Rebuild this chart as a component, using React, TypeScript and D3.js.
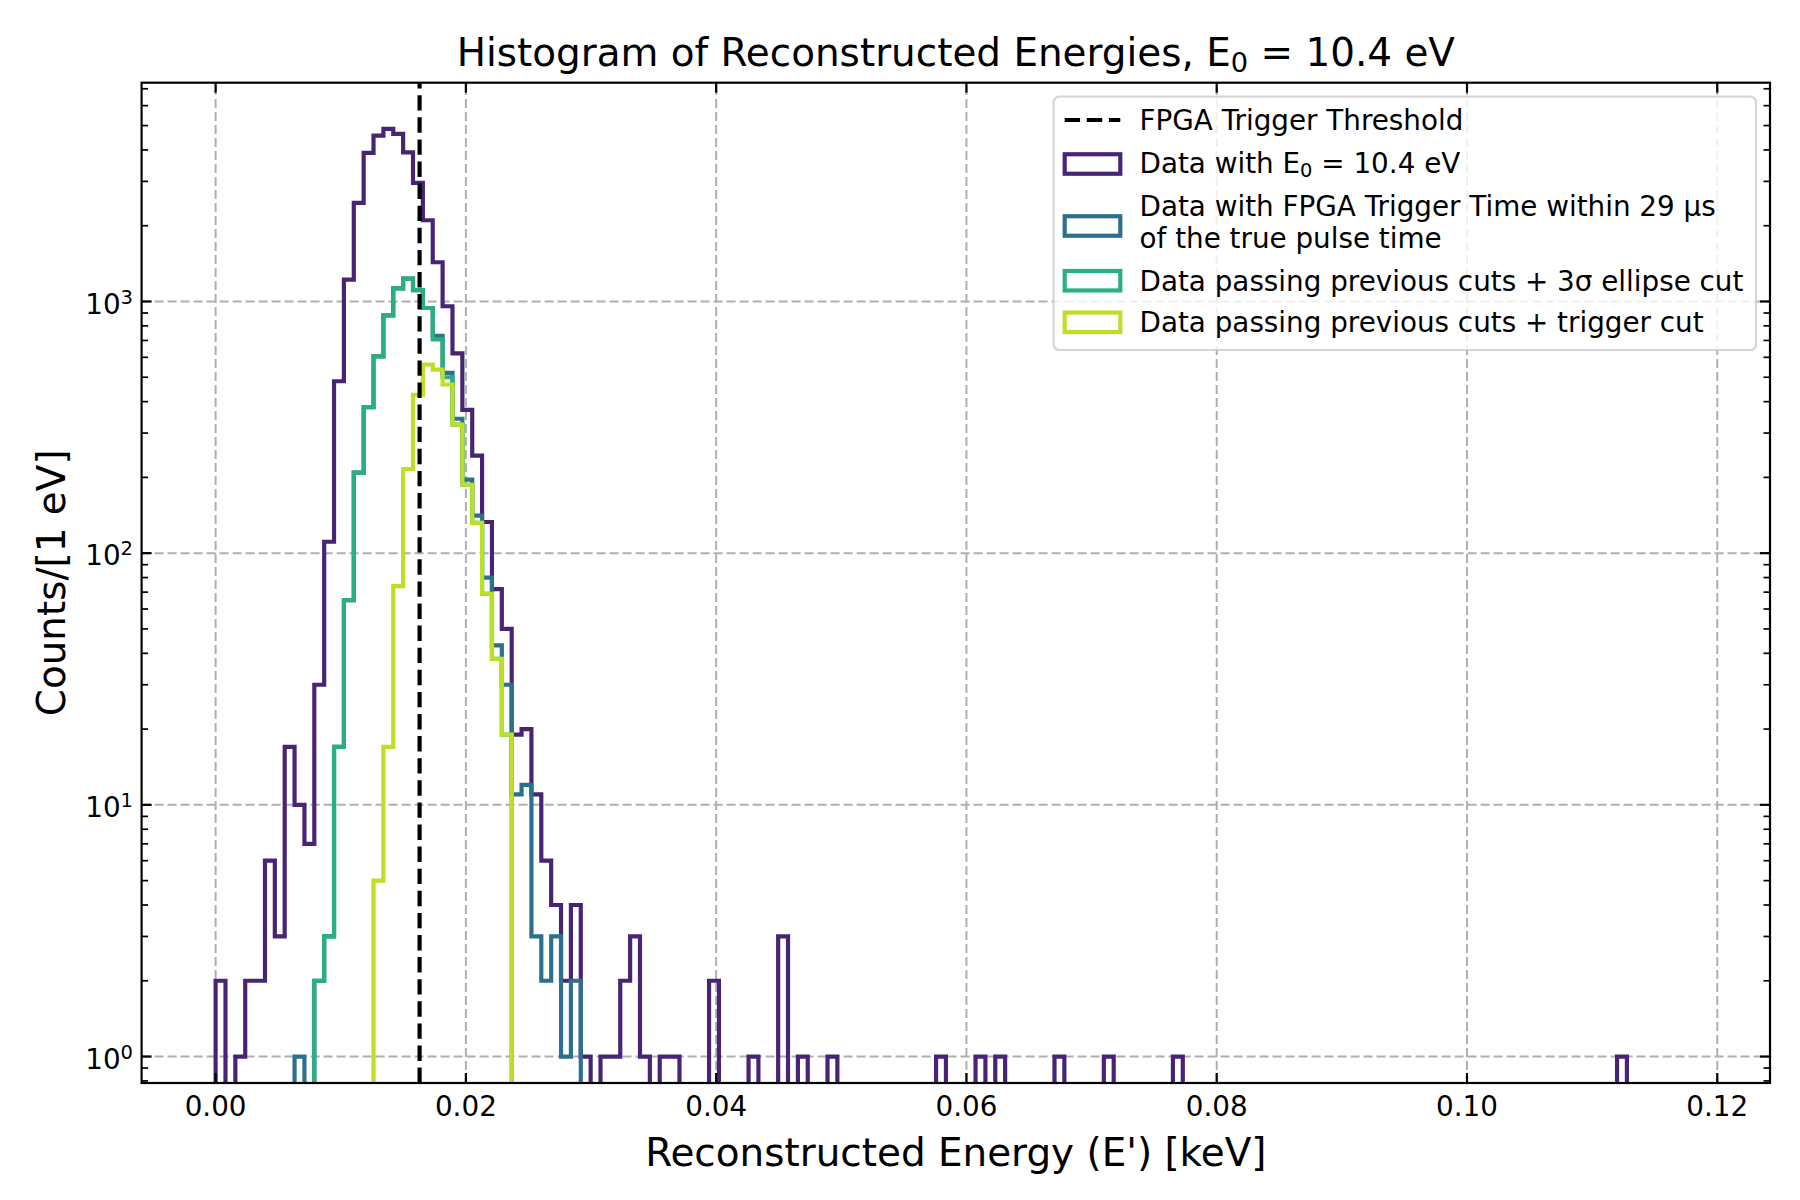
import React from "react";
import * as d3 from "d3";

const WIDTH = 1800;
const HEIGHT = 1200;
const FONT = "'DejaVu Sans', sans-serif";

// 150 equal bins between the lowest and highest reconstructed energy (keV)
const ENERGY_RANGE: [number, number] = [0, 0.1183];
const BIN_COUNT = 150;
const FPGA_THRESHOLD = 0.0163;

// counts per bin, bin 0 first; bins past the end of a list are empty
const allCounts = [
  2, 0, 1, 2, 2, 6, 3, 17, 10, 7,
  30, 111, 482, 1222, 2466, 3893, 4562, 4850, 4635, 3915,
  2958, 2103, 1432, 957, 622, 371, 244, 133, 72, 50,
  19, 20, 11, 6, 4, 2, 4, 1, 0, 1,
  1, 2, 3, 1, 0, 1, 1, 0, 0, 0,
  2, 0, 0, 0, 1, 0, 0, 3, 0, 1,
  0, 0, 1, 0, 0, 0, 0, 0, 0, 0,
  0, 0, 0, 1, 0, 0, 0, 1, 0, 1,
  0, 0, 0, 0, 0, 1, 0, 0, 0, 0,
  1, 0, 0, 0, 0, 0, 0, 1, 0, 0,
  0, 0, 0, 0, 0, 0, 0, 0, 0, 0,
  0, 0, 0, 0, 0, 0, 0, 0, 0, 0,
  0, 0, 0, 0, 0, 0, 0, 0, 0, 0,
  0, 0, 0, 0, 0, 0, 0, 0, 0, 0,
  0, 0, 1,
];
const triggerTimeCounts = [
  0, 0, 0, 0, 0, 0, 0, 0, 1, 0,
  2, 3, 17, 65, 209, 380, 605, 880, 1128, 1233,
  1110, 942, 730, 520, 342, 196, 141, 80, 43, 30,
  11, 12, 3, 2, 3, 1, 2,
];
const ellipseCutCounts = [
  0, 0, 0, 0, 0, 0, 0, 0, 0, 0,
  2, 3, 17, 65, 209, 380, 605, 880, 1128, 1233,
  1110, 942, 707, 500, 324, 187, 132, 69, 38, 19,
];
const triggerCutCounts = [
  0, 0, 0, 0, 0, 0, 0, 0, 0, 0,
  0, 0, 0, 0, 0, 0, 5, 17, 74, 216,
  426, 562, 536, 468, 324, 187, 132, 69, 38, 19,
];

const xTicks = [0, 0.02, 0.04, 0.06, 0.08, 0.1, 0.12];
const yExponents = [0, 1, 2, 3];
const Y_LIMITS: [number, number] = [0.785, 7400];

type Part = { text: string; sub?: boolean };

const series = [
  { counts: allCounts, color: d3.interpolateViridis(0.1), lines: [[{ text: "Data with E" }, { text: "0", sub: true }, { text: " = 10.4 eV" }]] },
  { counts: triggerTimeCounts, color: d3.interpolateViridis(0.367), lines: [[{ text: "Data with FPGA Trigger Time within 29 μs" }], [{ text: "of the true pulse time" }]] },
  { counts: ellipseCutCounts, color: d3.interpolateViridis(0.633), lines: [[{ text: "Data passing previous cuts + 3σ ellipse cut" }]] },
  { counts: triggerCutCounts, color: d3.interpolateViridis(0.9), lines: [[{ text: "Data passing previous cuts + trigger cut" }]] },
] as { counts: number[]; color: string; lines: Part[][] }[];

// axes box in pixels
const plot = { left: 141.6, right: 1770, top: 82.7, bottom: 1083 };

const App: React.FC = () => {
  const span = ENERGY_RANGE[1] - ENERGY_RANGE[0];
  const x = d3
    .scaleLinear()
    .domain([ENERGY_RANGE[0] - 0.05 * span, ENERGY_RANGE[1] + 0.05 * span])
    .range([plot.left, plot.right]);
  const y = d3.scaleLog().domain(Y_LIMITS).range([plot.bottom, plot.top]);

  const binWidth = span / BIN_COUNT;
  const edges = d3.range(BIN_COUNT + 1).map(i => ENERGY_RANGE[0] + i * binWidth);

  const stepLine = d3
    .line<[number, number]>()
    .x(d => x(d[0]))
    .y(d => y(Math.max(d[1], 1e-2)));

  const stepPath = (counts: number[]) => {
    const pts: [number, number][] = [[edges[0], 0]];
    for (let i = 0; i < BIN_COUNT; i++) {
      const c = counts[i] ?? 0;
      pts.push([edges[i], c], [edges[i + 1], c]);
    }
    pts.push([edges[BIN_COUNT], 0]);
    return stepLine(pts) ?? "";
  };

  const minorTicks: number[] = [];
  for (let e = -1; e <= 3; e++) {
    for (let k = 2; k <= 9; k++) {
      const v = k * Math.pow(10, e);
      if (v > Y_LIMITS[0] && v < Y_LIMITS[1]) minorTicks.push(v);
    }
  }

  const gridStyle = { stroke: "#b0b0b0", strokeWidth: 2, strokeDasharray: "9 4" };

  // legend layout
  const legend = { left: 1053.6, top: 96.6, width: 702.4, height: 253.4 };
  const handleX0 = 1064.7;
  const handleX1 = 1120.3;
  const textX = 1139.5;
  const rowBaselines = [[172.7], [216, 248.3], [290.7], [332.3]];
  const rowCenters = [164, 226, 280.7, 322.3];

  const renderParts = (parts: Part[], size: number) =>
    parts.map((p, i) => {
      const prev = i > 0 && parts[i - 1].sub;
      if (p.sub) {
        return (
          <tspan key={i} fontSize={size * 0.7} dy={size * 0.16}>
            {p.text}
          </tspan>
        );
      }
      return (
        <tspan key={i} dy={prev ? -size * 0.16 : 0}>
          {p.text}
        </tspan>
      );
    });

  return (
    <svg
      width={WIDTH}
      height={HEIGHT}
      style={{ position: "absolute", left: 0, top: 0, background: "white" }}
      fontFamily={FONT}
    >
      <rect width={WIDTH} height={HEIGHT} fill="white" />
      <defs>
        <clipPath id="plot-clip">
          <rect x={plot.left} y={plot.top} width={plot.right - plot.left} height={plot.bottom - plot.top} />
        </clipPath>
      </defs>

      {/* grid */}
      {xTicks.map(t => (
        <line key={`gx${t}`} x1={x(t)} x2={x(t)} y1={plot.bottom} y2={plot.top} {...gridStyle} />
      ))}
      {yExponents.map(e => (
        <line key={`gy${e}`} x1={plot.left} x2={plot.right} y1={y(Math.pow(10, e))} y2={y(Math.pow(10, e))} {...gridStyle} />
      ))}

      {/* histograms */}
      <g clipPath="url(#plot-clip)">
        {series.map((s, i) => (
          <path
            key={i}
            d={stepPath(s.counts)}
            fill="none"
            stroke={s.color}
            strokeWidth={4.17}
            strokeLinejoin="miter"
          />
        ))}
        <line
          x1={x(FPGA_THRESHOLD)}
          x2={x(FPGA_THRESHOLD)}
          y1={plot.bottom}
          y2={plot.top}
          stroke="black"
          strokeWidth={4.17}
          strokeDasharray="15.4 6.7"
        />
      </g>

      {/* ticks, pointing inwards on all four sides */}
      {xTicks.map(t => (
        <g key={`tx${t}`} stroke="black" strokeWidth={2.2}>
          <line x1={x(t)} x2={x(t)} y1={plot.bottom} y2={plot.bottom - 10} />
          <line x1={x(t)} x2={x(t)} y1={plot.top} y2={plot.top + 10} />
        </g>
      ))}
      {yExponents.map(e => (
        <g key={`ty${e}`} stroke="black" strokeWidth={2.2}>
          <line x1={plot.left} x2={plot.left + 10} y1={y(Math.pow(10, e))} y2={y(Math.pow(10, e))} />
          <line x1={plot.right} x2={plot.right - 10} y1={y(Math.pow(10, e))} y2={y(Math.pow(10, e))} />
        </g>
      ))}
      {minorTicks.map(v => (
        <g key={`tm${v}`} stroke="black" strokeWidth={1.7}>
          <line x1={plot.left} x2={plot.left + 6.5} y1={y(v)} y2={y(v)} />
          <line x1={plot.right} x2={plot.right - 6.5} y1={y(v)} y2={y(v)} />
        </g>
      ))}

      <rect
        x={plot.left}
        y={plot.top}
        width={plot.right - plot.left}
        height={plot.bottom - plot.top}
        fill="none"
        stroke="black"
        strokeWidth={2.2}
      />

      {/* tick labels */}
      {xTicks.map(t => (
        <text key={`lx${t}`} x={x(t)} y={1116.3} fontSize={27.8} textAnchor="middle">
          {t.toFixed(2)}
        </text>
      ))}
      {yExponents.map(e => (
        <text key={`ly${e}`} x={133} y={y(Math.pow(10, e)) + 12.3} fontSize={27.8} textAnchor="end">
          10
          <tspan fontSize={19.5} dy={-10}>
            {e}
          </tspan>
        </text>
      ))}

      {/* titles */}
      <text x={(plot.left + plot.right) / 2} y={66} fontSize={38.9} textAnchor="middle">
        {renderParts(
          [{ text: "Histogram of Reconstructed Energies, E" }, { text: "0", sub: true }, { text: " = 10.4 eV" }],
          38.9
        )}
      </text>
      <text x={(plot.left + plot.right) / 2} y={1166} fontSize={38.9} textAnchor="middle">
        Reconstructed Energy (E') [keV]
      </text>
      <text
        transform={`translate(64.5,${(plot.top + plot.bottom) / 2}) rotate(-90)`}
        fontSize={38.9}
        textAnchor="middle"
      >
        Counts/[1 eV]
      </text>

      {/* legend */}
      <rect
        x={legend.left}
        y={legend.top}
        width={legend.width}
        height={legend.height}
        rx={5.6}
        fill="white"
        fillOpacity={0.8}
        stroke="#cccccc"
        strokeOpacity={0.8}
        strokeWidth={2.2}
      />
      <line
        x1={handleX0}
        x2={handleX1}
        y1={120}
        y2={120}
        stroke="black"
        strokeWidth={4.17}
        strokeDasharray="15.4 6.7"
      />
      <text x={textX} y={130} fontSize={27.8}>
        FPGA Trigger Threshold
      </text>
      {series.map((s, i) => (
        <g key={`lg${i}`}>
          <rect
            x={handleX0}
            y={rowCenters[i] - 9.75}
            width={handleX1 - handleX0}
            height={19.5}
            fill="none"
            stroke={s.color}
            strokeWidth={4.17}
          />
          {s.lines.map((parts, j) => (
            <text key={j} x={textX} y={rowBaselines[i][j]} fontSize={27.8}>
              {renderParts(parts, 27.8)}
            </text>
          ))}
        </g>
      ))}
    </svg>
  );
};

export default App;
